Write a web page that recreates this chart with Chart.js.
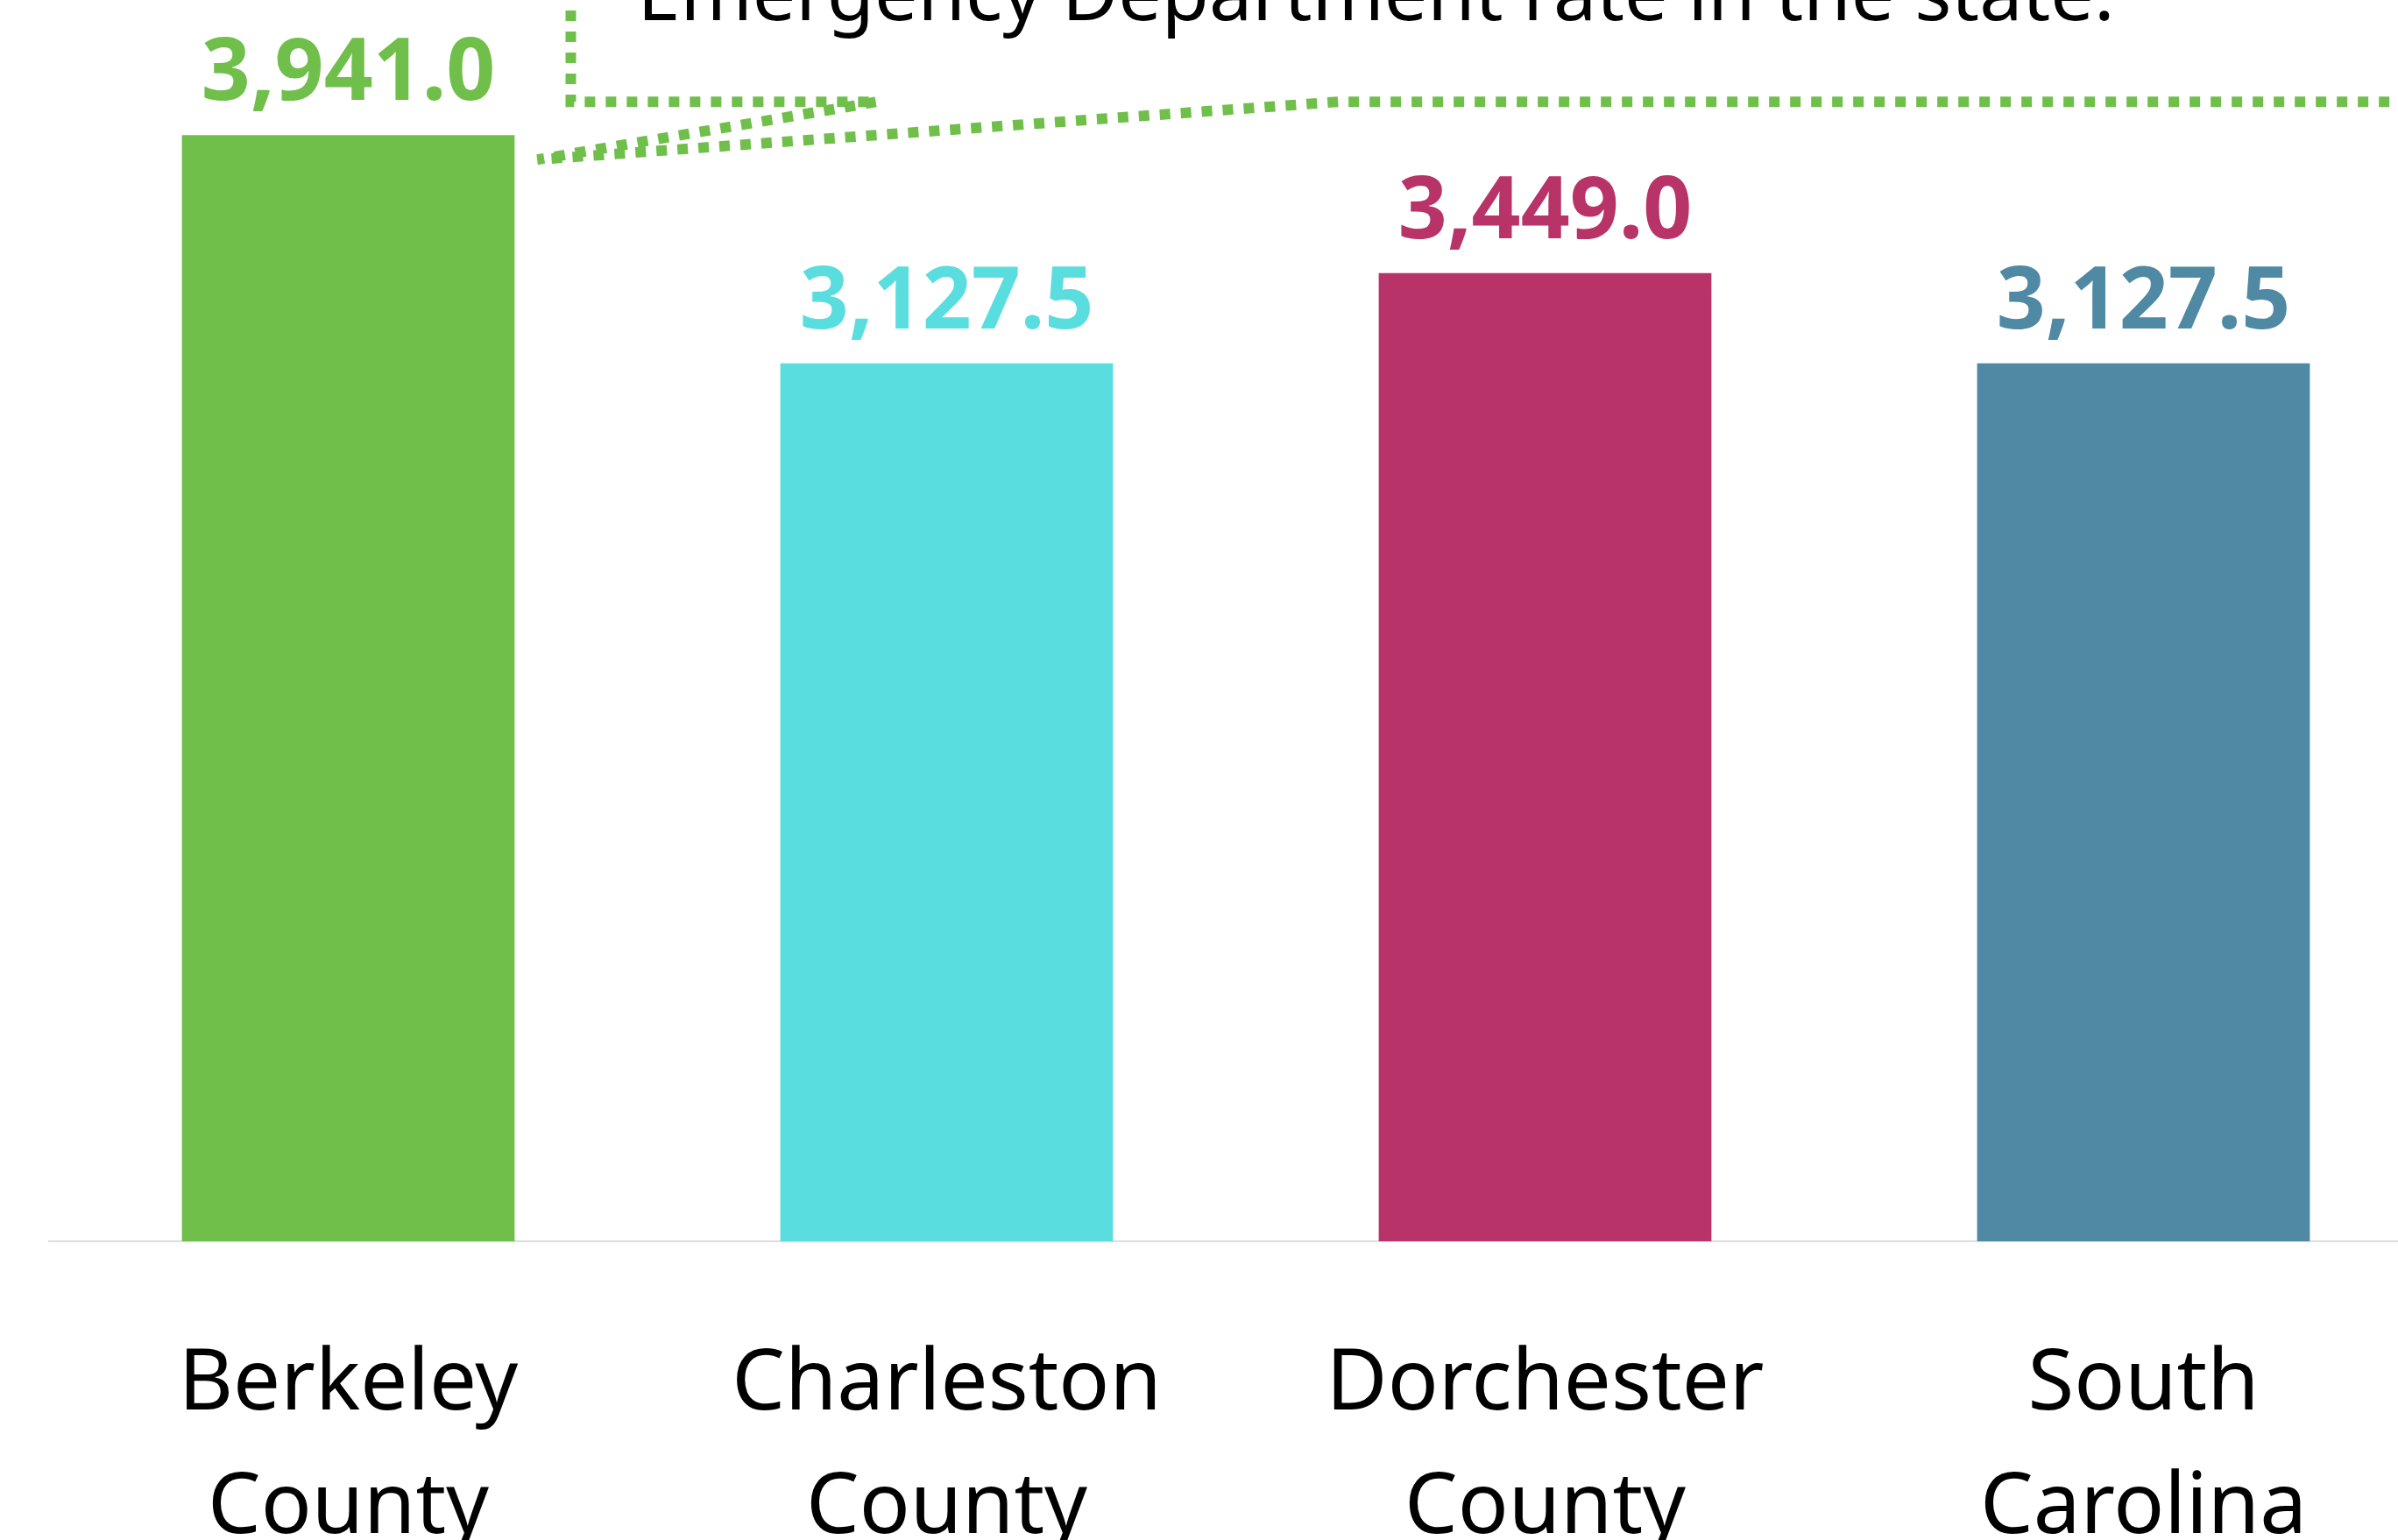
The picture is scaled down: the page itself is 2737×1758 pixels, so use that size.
<!DOCTYPE html>
<html>
<head>
<meta charset="utf-8">
<script src="https://cdn.jsdelivr.net/npm/chart.js@4/dist/chart.umd.min.js"></script>
<style>
    html, body {
        margin: 0;
        padding: 0;
        background: #ffffff;
        overflow: hidden;
    }
    .rateChart {
        position: absolute;
        left: 0;
        top: 0;
        width: 2800px;
        height: 1758px;
    }
</style>
</head>
<body>
<div class="rateChart">
    <canvas id="edRateChart"></canvas>
</div>
<script>
    // chart values
    const categories = [
        ["Berkeley", "County"],
        ["Charleston", "County"],
        ["Dorchester", "County"],
        ["South", "Carolina"]
    ];
    const edRates = [3941.0, 3127.5, 3449.0, 3127.5];
    const barColors = ["#70bf4b", "#5adddf", "#b83367", "#4f89a3"];
    const calloutText = "Emergency Department rate in the state.";

    const fontFamily = "'Noto Sans', 'Open Sans', sans-serif";
    const calloutGreen = "#70bf4b";

    function formatRate(v) {
        return v.toLocaleString('en-US', {minimumFractionDigits: 1, maximumFractionDigits: 1});
    }

    // value labels above the bars
    const valueLabels = {
        id: 'valueLabels',
        afterDatasetsDraw(chart) {
            const ctx = chart.ctx;
            const meta = chart.getDatasetMeta(0);
            ctx.save();
            ctx.font = "bold 98px " + fontFamily;
            ctx.textAlign = 'center';
            ctx.textBaseline = 'alphabetic';
            meta.data.forEach((bar, i) => {
                ctx.fillStyle = barColors[i];
                ctx.fillText(formatRate(edRates[i]), bar.x, bar.y - 40);
            });
            ctx.restore();
        }
    };

    // dotted callout box pointing at the first bar
    const callout = {
        id: 'callout',
        afterDraw(chart) {
            const ctx = chart.ctx;
            const bar = chart.getDatasetMeta(0).data[0];
            const firstCenter = chart.scales.x.getPixelForValue(0);
            const boxLeft = firstCenter + 254;
            const boxBottom = bar.y - 38;
            const tipX = bar.x + bar.width / 2 + 26;
            const tipY = bar.y + 28;

            ctx.save();
            ctx.strokeStyle = calloutGreen;
            ctx.lineWidth = 12;
            ctx.lineCap = 'butt';
            ctx.setLineDash([12, 12]);
            ctx.beginPath();
            ctx.moveTo(boxLeft, -60);
            ctx.lineTo(boxLeft, boxBottom);
            ctx.lineTo(boxLeft + 350, boxBottom);
            ctx.lineTo(tipX, tipY);
            ctx.lineTo(boxLeft + 877, boxBottom);
            ctx.lineTo(chart.width + 20, boxBottom);
            ctx.stroke();

            ctx.setLineDash([]);
            ctx.fillStyle = "#000000";
            ctx.font = "88px " + fontFamily;
            ctx.textAlign = 'left';
            ctx.textBaseline = 'alphabetic';
            ctx.fillText(calloutText, boxLeft + 76, boxBottom - 93);
            ctx.restore();
        }
    };

    const ctx = document.getElementById("edRateChart");
    new Chart(ctx, {
        type: 'bar',
        data: {
            labels: categories,
            datasets: [{
                data: edRates,
                backgroundColor: barColors,
                borderWidth: 0,
                barPercentage: 1.0,
                categoryPercentage: 0.556
            }]
        },
        options: {
            responsive: true,
            maintainAspectRatio: false,
            animation: false,
            layout: {
                padding: {left: 56, right: 12, top: 0, bottom: 0}
            },
            scales: {
                y: {
                    display: false,
                    min: 0,
                    max: 4422
                },
                x: {
                    grid: {
                        display: false,
                        drawTicks: false
                    },
                    border: {
                        display: true,
                        color: '#dddddd',
                        width: 2
                    },
                    ticks: {
                        color: '#000000',
                        padding: 94,
                        maxRotation: 0,
                        autoSkip: false,
                        font: {
                            family: fontFamily,
                            size: 96,
                            lineHeight: 1.47
                        }
                    },
                    afterFit(scale) {
                        scale.height = 341;
                    }
                }
            },
            plugins: {
                legend: {display: false},
                title: {display: false},
                tooltip: {enabled: false}
            }
        },
        plugins: [valueLabels, callout]
    });
</script>
</body>
</html>
